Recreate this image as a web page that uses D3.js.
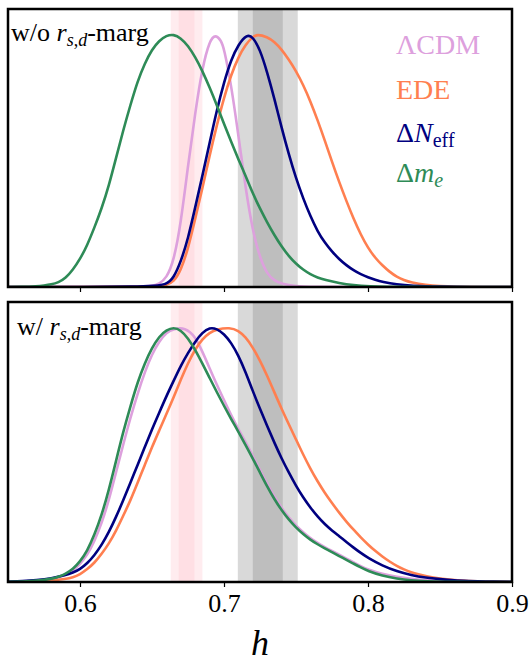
<!DOCTYPE html>
<html>
<head>
<meta charset="utf-8">
<script src="https://cdn.jsdelivr.net/npm/d3@7"></script>
<style>
  html, body { margin: 0; padding: 0; background: #fff; }
  svg { display: block; }
</style>
</head>
<body>
<svg id="chart" width="532" height="662"></svg>
<script>
// Posterior of h, normalised to peak = 1, as [h, P] pairs
const topLCDM = [[0.55,0],[0.64,0],[0.65,0.004],[0.655,0.012],[0.66,0.035],[0.665,0.10],[0.67,0.25],[0.675,0.48],[0.68,0.69],[0.685,0.87],[0.69,0.975],[0.694,1.0],[0.698,0.975],[0.70,0.945],[0.705,0.80],[0.71,0.60],[0.715,0.39],[0.72,0.22],[0.725,0.115],[0.73,0.05],[0.735,0.025],[0.74,0.012],[0.75,0.003],[0.76,0.001],[0.80,0],[0.90,0]];
const topEDE = [[0.55,0],[0.65,0],[0.66,0.006],[0.665,0.02],[0.67,0.065],[0.675,0.15],[0.68,0.27],[0.685,0.39],[0.69,0.52],[0.695,0.64],[0.70,0.75],[0.705,0.84],[0.71,0.91],[0.715,0.96],[0.72,0.99],[0.723,1.0],[0.73,0.99],[0.735,0.97],[0.74,0.94],[0.745,0.90],[0.75,0.855],[0.755,0.80],[0.76,0.735],[0.765,0.66],[0.77,0.58],[0.775,0.495],[0.78,0.415],[0.785,0.34],[0.79,0.27],[0.795,0.207],[0.80,0.155],[0.805,0.115],[0.81,0.085],[0.815,0.06],[0.82,0.04],[0.825,0.027],[0.83,0.018],[0.84,0.008],[0.85,0.003],[0.86,0.001],[0.88,0],[0.90,0]];
const topNeff = [[0.55,0],[0.65,0],[0.66,0.01],[0.665,0.035],[0.67,0.10],[0.675,0.19],[0.68,0.315],[0.685,0.44],[0.69,0.57],[0.695,0.70],[0.70,0.81],[0.705,0.90],[0.71,0.96],[0.716,1.0],[0.72,0.99],[0.725,0.94],[0.73,0.85],[0.735,0.745],[0.74,0.63],[0.745,0.525],[0.75,0.43],[0.755,0.35],[0.76,0.28],[0.765,0.22],[0.77,0.175],[0.775,0.14],[0.78,0.11],[0.785,0.086],[0.79,0.066],[0.795,0.05],[0.80,0.038],[0.805,0.028],[0.81,0.02],[0.82,0.01],[0.83,0.005],[0.85,0.001],[0.87,0],[0.90,0]];
const topMe = [[0.55,0],[0.56,0],[0.57,0.003],[0.575,0.006],[0.58,0.01],[0.585,0.018],[0.59,0.035],[0.595,0.068],[0.60,0.11],[0.605,0.165],[0.61,0.235],[0.615,0.31],[0.62,0.40],[0.625,0.51],[0.63,0.62],[0.635,0.72],[0.64,0.815],[0.645,0.885],[0.65,0.94],[0.655,0.975],[0.66,0.995],[0.665,1.0],[0.67,0.985],[0.675,0.955],[0.68,0.91],[0.685,0.855],[0.69,0.79],[0.695,0.72],[0.70,0.645],[0.705,0.575],[0.71,0.505],[0.715,0.44],[0.72,0.37],[0.725,0.31],[0.73,0.255],[0.735,0.205],[0.74,0.16],[0.745,0.122],[0.75,0.092],[0.755,0.068],[0.76,0.05],[0.765,0.037],[0.77,0.028],[0.78,0.015],[0.79,0.007],[0.80,0.003],[0.82,0],[0.90,0]];

const botLCDM = [[0.55,0],[0.56,0.002],[0.57,0.005],[0.58,0.01],[0.585,0.017],[0.59,0.028],[0.595,0.045],[0.60,0.07],[0.605,0.105],[0.61,0.16],[0.615,0.23],[0.62,0.32],[0.625,0.43],[0.63,0.54],[0.635,0.645],[0.64,0.74],[0.645,0.825],[0.65,0.895],[0.655,0.945],[0.66,0.98],[0.665,0.995],[0.673,1.0],[0.68,0.965],[0.685,0.905],[0.69,0.84],[0.695,0.775],[0.70,0.715],[0.705,0.655],[0.71,0.60],[0.715,0.55],[0.72,0.495],[0.725,0.44],[0.73,0.385],[0.735,0.335],[0.74,0.29],[0.745,0.253],[0.75,0.222],[0.755,0.195],[0.76,0.172],[0.765,0.153],[0.77,0.137],[0.775,0.122],[0.78,0.107],[0.785,0.092],[0.79,0.077],[0.795,0.062],[0.80,0.049],[0.81,0.031],[0.82,0.02],[0.83,0.012],[0.84,0.007],[0.85,0.004],[0.86,0.002],[0.88,0],[0.90,0]];
const botEDE = [[0.55,0],[0.57,0.001],[0.58,0.005],[0.59,0.012],[0.595,0.018],[0.60,0.03],[0.605,0.05],[0.61,0.075],[0.615,0.11],[0.62,0.15],[0.625,0.20],[0.63,0.26],[0.635,0.32],[0.64,0.39],[0.645,0.46],[0.65,0.53],[0.655,0.595],[0.66,0.66],[0.665,0.725],[0.67,0.795],[0.675,0.86],[0.68,0.915],[0.685,0.955],[0.69,0.98],[0.695,0.993],[0.704,1.0],[0.71,0.988],[0.715,0.962],[0.72,0.922],[0.725,0.87],[0.73,0.81],[0.735,0.745],[0.74,0.68],[0.745,0.62],[0.75,0.56],[0.755,0.50],[0.76,0.445],[0.765,0.395],[0.77,0.35],[0.775,0.31],[0.78,0.272],[0.785,0.237],[0.79,0.205],[0.795,0.175],[0.80,0.147],[0.805,0.122],[0.81,0.10],[0.815,0.08],[0.82,0.063],[0.825,0.049],[0.83,0.038],[0.835,0.03],[0.84,0.023],[0.85,0.013],[0.86,0.007],[0.87,0.004],[0.88,0.002],[0.90,0]];
const botNeff = [[0.55,0.001],[0.56,0.003],[0.57,0.007],[0.58,0.014],[0.59,0.027],[0.595,0.037],[0.60,0.05],[0.605,0.073],[0.61,0.105],[0.615,0.145],[0.62,0.195],[0.625,0.255],[0.63,0.32],[0.635,0.39],[0.64,0.46],[0.645,0.53],[0.65,0.60],[0.655,0.665],[0.66,0.73],[0.665,0.79],[0.67,0.85],[0.675,0.90],[0.68,0.945],[0.685,0.98],[0.69,1.0],[0.695,0.995],[0.70,0.975],[0.705,0.94],[0.71,0.89],[0.715,0.825],[0.72,0.75],[0.725,0.68],[0.73,0.612],[0.735,0.547],[0.74,0.485],[0.745,0.43],[0.75,0.378],[0.755,0.332],[0.76,0.292],[0.765,0.257],[0.77,0.227],[0.775,0.202],[0.78,0.18],[0.785,0.157],[0.79,0.135],[0.795,0.114],[0.80,0.095],[0.81,0.064],[0.82,0.042],[0.83,0.027],[0.84,0.017],[0.85,0.011],[0.86,0.006],[0.87,0.004],[0.88,0.002],[0.90,0.001]];
const botMe = [[0.55,0],[0.56,0.002],[0.57,0.005],[0.58,0.012],[0.585,0.02],[0.59,0.032],[0.595,0.05],[0.60,0.08],[0.605,0.122],[0.61,0.185],[0.615,0.262],[0.62,0.36],[0.625,0.475],[0.63,0.59],[0.635,0.69],[0.64,0.785],[0.645,0.86],[0.65,0.92],[0.655,0.965],[0.66,0.99],[0.665,1.0],[0.67,0.99],[0.675,0.958],[0.68,0.912],[0.685,0.858],[0.69,0.802],[0.695,0.746],[0.70,0.692],[0.705,0.64],[0.71,0.59],[0.715,0.538],[0.72,0.485],[0.725,0.43],[0.73,0.375],[0.735,0.325],[0.74,0.282],[0.745,0.245],[0.75,0.214],[0.755,0.188],[0.76,0.166],[0.765,0.148],[0.77,0.132],[0.775,0.117],[0.78,0.102],[0.785,0.087],[0.79,0.072],[0.795,0.057],[0.80,0.043],[0.81,0.024],[0.82,0.013],[0.83,0.006],[0.84,0.003],[0.86,0],[0.90,0]];

// Reference measurements of h: [mean, sigma]
const planckH = [0.674, 0.0055];
const shoesH = [0.7304, 0.0104];

const xTicks = [0.6, 0.7, 0.8, 0.9];
const modelNames = ["ΛCDM", "EDE", "ΔNeff", "Δme"];
const modelColors = ["#dda0dd", "#ff7f50", "#000080", "#2e8b57"];
const panelLabels = ["w/o", "w/"];

// pick the first installed serif face (falls back to generic serif)
function pickSerif(cands) {
  const ctx = document.createElement("canvas").getContext("2d");
  const probe = "mmmmmmmmmmlliWW0123456789abcdefgh";
  const width = f => { ctx.font = "72px " + f; return ctx.measureText(probe).width; };
  const wMono = width("monospace"), wSans = width("sans-serif");
  for (const c of cands) {
    const a = width(`"${c}", monospace`), b = width(`"${c}", sans-serif`);
    if (a !== wMono || b !== wSans) return `"${c}", serif`;
  }
  return "serif";
}
const SERIF = pickSerif(["Liberation Serif", "Times New Roman", "Tinos", "Times", "DejaVu Serif", "Noto Serif", "FreeSerif", "Nimbus Roman"]);

const svg = d3.select("#chart");
const x = d3.scaleLinear().domain([0.55, 0.90]).range([8, 512]);

const panels = [
  { top: 9, bottom: 287, label: panelLabels[0], series: [topLCDM, topEDE, topNeff, topMe], tickLabels: false },
  { top: 302, bottom: 582, label: panelLabels[1], series: [botLCDM, botEDE, botNeff, botMe], tickLabels: true }
];

panels.forEach((p, pi) => {
  const y = d3.scaleLinear().domain([0, 1.1]).range([p.bottom, p.top]);
  const g = svg.append("g");
  const clipId = "clip" + pi;
  svg.append("clipPath").attr("id", clipId)
    .append("rect").attr("x", x.range()[0]).attr("y", p.top)
    .attr("width", x.range()[1] - x.range()[0]).attr("height", p.bottom - p.top);

  const body = g.append("g").attr("clip-path", `url(#${clipId})`);

  // 2σ and 1σ bands
  const band = (c, k, fill) => body.append("rect")
    .attr("x", x(c[0] - k * c[1])).attr("y", p.top)
    .attr("width", x(c[0] + k * c[1]) - x(c[0] - k * c[1]))
    .attr("height", p.bottom - p.top).attr("fill", fill);
  band(planckH, 2, "#ffecef");
  band(planckH, 1, "#ffdfe4");
  band(shoesH, 2, "#d9d9d9");
  band(shoesH, 1, "#bebebe");

  const line = d3.line().x(d => x(d[0])).y(d => y(d[1])).curve(d3.curveBasis);
  p.series.forEach((s, i) => {
    body.append("path").datum(s).attr("d", line)
      .attr("fill", "none").attr("stroke", modelColors[i])
      .attr("stroke-width", 2.6).attr("stroke-linejoin", "round");
  });

  // x axis
  const axis = d3.axisBottom(x).tickValues(xTicks).tickSize(5).tickPadding(7)
    .tickFormat(p.tickLabels ? d3.format(".1f") : "");
  const ax = g.append("g").attr("transform", `translate(0,${p.bottom})`).call(axis);
  ax.attr("font-family", null).attr("font-size", null);
  ax.select(".domain").remove();
  ax.selectAll(".tick line").attr("stroke", "#000").attr("stroke-width", 1.2);
  ax.selectAll(".tick text").attr("fill", "#000")
    .attr("font-family", SERIF).attr("font-size", "26px");

  // frame
  g.append("rect").attr("x", x.range()[0]).attr("y", p.top)
    .attr("width", x.range()[1] - x.range()[0]).attr("height", p.bottom - p.top)
    .attr("fill", "none").attr("stroke", "#000").attr("stroke-width", 2.5);

  // panel label: w/o r_{s,d}-marg
  const lt = g.append("text").attr("x", pi === 0 ? 11 : 17).attr("y", p.top + (pi === 0 ? 32 : 33))
    .attr("font-family", SERIF).attr("font-size", "26px").attr("fill", "#000");
  lt.append("tspan").text(p.label + " ");
  lt.append("tspan").attr("font-style", "italic").text("r");
  const sub = lt.append("tspan").attr("dy", 5).attr("font-size", "18px");
  sub.append("tspan").attr("font-style", "italic").text("s");
  sub.append("tspan").text(",");
  sub.append("tspan").attr("font-style", "italic").text("d");
  lt.append("tspan").attr("dy", -5).text("-marg");
});

// legend (top panel)
const legY = [54, 99, 142, 182];
const leg = svg.append("g").attr("font-family", SERIF).attr("font-size", "28px");
leg.append("text").attr("x", 396).attr("y", legY[0]).attr("fill", modelColors[0]).text(modelNames[0]);
leg.append("text").attr("x", 396).attr("y", legY[1]).attr("fill", modelColors[1]).text(modelNames[1]);
const t2 = leg.append("text").attr("x", 396).attr("y", legY[2]).attr("fill", modelColors[2]);
t2.append("tspan").text("Δ");
t2.append("tspan").attr("font-style", "italic").text("N");
t2.append("tspan").attr("dy", 5).attr("font-size", "20px").text("eff");
const t3 = leg.append("text").attr("x", 396).attr("y", legY[3]).attr("fill", modelColors[3]);
t3.append("tspan").text("Δ");
t3.append("tspan").attr("font-style", "italic").text("m");
t3.append("tspan").attr("dy", 5).attr("font-size", "20px").attr("font-style", "italic").text("e");

// x-axis title
svg.append("text").attr("x", 260).attr("y", 655).attr("text-anchor", "middle")
  .attr("font-family", SERIF).attr("font-size", "36px").attr("font-style", "italic").text("h");
</script>
</body>
</html>
